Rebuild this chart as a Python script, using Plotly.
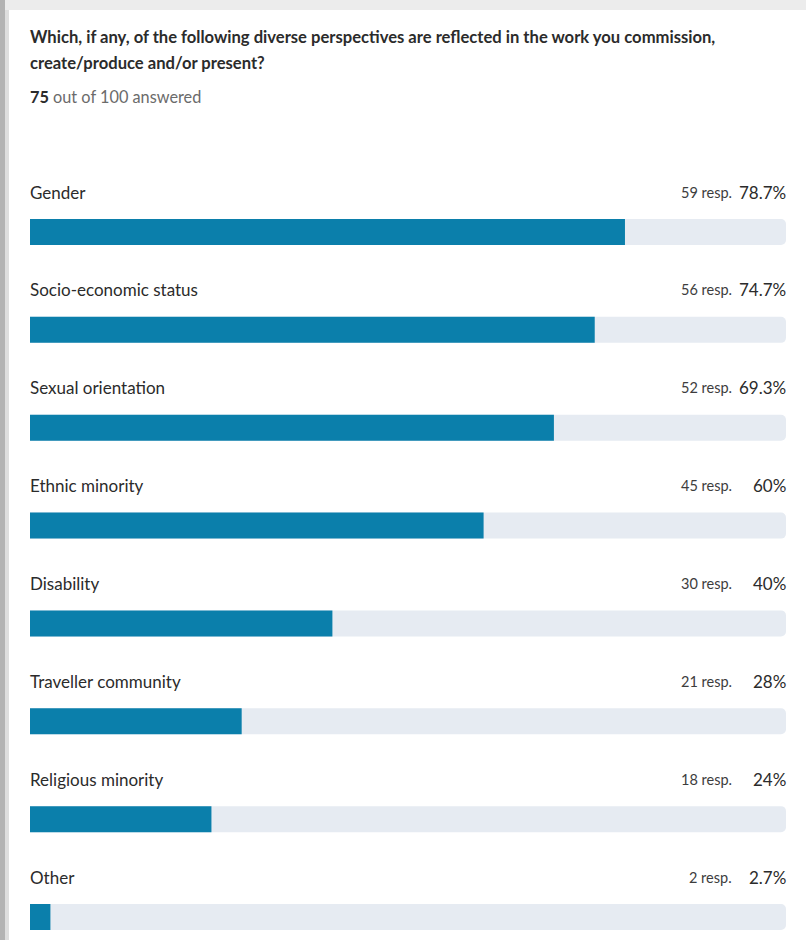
import plotly.graph_objects as go

# Survey results: share of respondents reflecting each perspective
categories = [
    "Gender",
    "Socio-economic status",
    "Sexual orientation",
    "Ethnic minority",
    "Disability",
    "Traveller community",
    "Religious minority",
    "Other",
]
responses = [59, 56, 52, 45, 30, 21, 18, 2]
percents = [78.7, 74.7, 69.3, 60, 40, 28, 24, 2.7]
pct_labels = ["78.7%", "74.7%", "69.3%", "60%", "40%", "28%", "24%", "2.7%"]

question_line1 = "Which, if any, of the following diverse perspectives are reflected in the work you commission,"
question_line2 = "create/produce and/or present?"
answered = 75
total = 100

W, H = 806, 940
L, R = 30, 20
FONT = "Lato, 'Source Sans Pro', 'Noto Sans', sans-serif"
TEXT = "#2b2b2b"
FILL = "#0b7fab"
TRACK = "#e6ebf2"

ypos = list(range(len(categories)))

fig = go.Figure()
# Background track (full 100%)
fig.add_trace(go.Bar(
    x=[100] * len(categories), y=ypos, orientation="h",
    marker=dict(color=TRACK, cornerradius=5, line=dict(width=0)),
    width=0.266, hoverinfo="skip", showlegend=False,
))
# Filled share
fig.add_trace(go.Bar(
    x=percents, y=ypos, orientation="h",
    marker=dict(color=FILL, cornerradius=5, line=dict(width=0)),
    width=0.266, hoverinfo="skip", showlegend=False,
))

annotations = []
for i, (cat, n, pl) in enumerate(zip(categories, responses, pct_labels)):
    annotations.append(dict(
        x=0, y=i, xref="x", yref="y", text=cat, showarrow=False,
        xanchor="left", yanchor="middle", yshift=40, xshift=-2,
        font=dict(family=FONT, size=17, color=TEXT),
    ))
    annotations.append(dict(
        x=100, y=i, xref="x", yref="y", text=f"{n} resp.", showarrow=False,
        xanchor="right", yanchor="middle", yshift=40, xshift=-52,
        font=dict(family=FONT, size=14.5, color="#3d3d3d"),
    ))
    annotations.append(dict(
        x=100, y=i, xref="x", yref="y", text=pl, showarrow=False,
        xanchor="right", yanchor="middle", yshift=40, xshift=2,
        font=dict(family=FONT, size=17, color=TEXT),
    ))


def px_x(px):
    return (px - L) / (W - L - R)


def px_y(py):
    return 1 - py / H


annotations += [
    dict(x=px_x(30), y=px_y(37), xref="paper", yref="paper", text=f"<b>{question_line1}</b>",
         showarrow=False, xanchor="left", yanchor="middle", xshift=-2,
         font=dict(family=FONT, size=16.6, color=TEXT)),
    dict(x=px_x(30), y=px_y(63), xref="paper", yref="paper", text=f"<b>{question_line2}</b>",
         showarrow=False, xanchor="left", yanchor="middle", xshift=-2,
         font=dict(family=FONT, size=16.6, color=TEXT)),
    dict(x=px_x(30), y=px_y(97), xref="paper", yref="paper",
         text=f"<b>{answered}</b><span style='color:#6b6b6b'> out of {total} answered</span>",
         showarrow=False, xanchor="left", yanchor="middle", xshift=-2,
         font=dict(family=FONT, size=16.3, color=TEXT)),
]

# Page frame: top strip and left edge shadow
shapes = [
    dict(type="rect", xref="paper", yref="paper", x0=px_x(0), x1=px_x(W), y0=px_y(0), y1=px_y(10),
         fillcolor="#ececec", line=dict(width=0), layer="below"),
    dict(type="rect", xref="paper", yref="paper", x0=px_x(0), x1=px_x(5), y0=px_y(0), y1=px_y(H),
         fillcolor="#b3b3b3", line=dict(width=0), layer="below"),
    dict(type="rect", xref="paper", yref="paper", x0=px_x(5), x1=px_x(9), y0=px_y(10), y1=px_y(H),
         fillcolor="#dedede", line=dict(width=0), layer="below"),
]

# y axis: row 0 centred at 232px, rows 97.86px apart
step = (917 - 232) / 7
fig.update_layout(
    width=W, height=H,
    margin=dict(l=L, r=R, t=0, b=0, pad=0),
    paper_bgcolor="white", plot_bgcolor="white",
    barmode="overlay",
    xaxis=dict(range=[0, 100], visible=False, fixedrange=True),
    yaxis=dict(range=[7 + (H - 917) / step, -232 / step], visible=False, fixedrange=True),
    annotations=annotations, shapes=shapes,
    hovermode=False,
)

fig.write_html("out.html", config={"displayModeBar": False})
